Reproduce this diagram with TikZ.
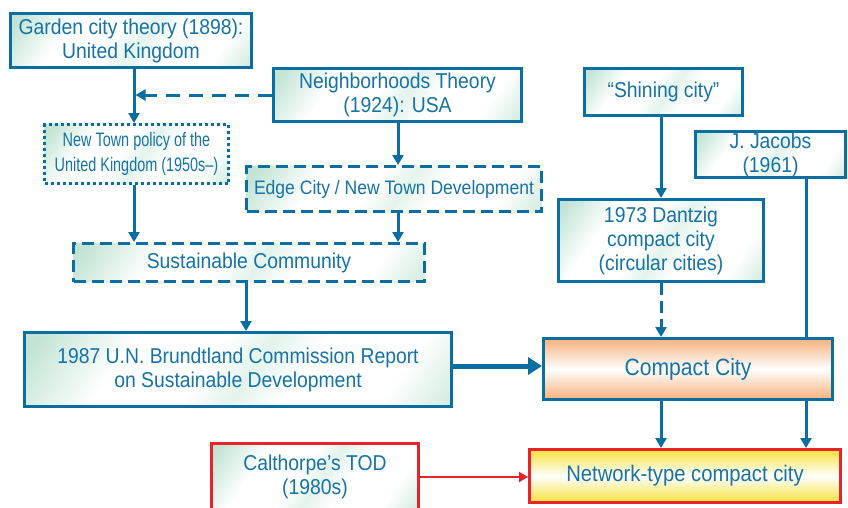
\documentclass[tikz,border=0pt]{standalone}
\usepackage{fontspec}
\setmainfont{Liberation Sans}[FakeStretch=0.9]
\newfontfamily\narrowfont{Liberation Sans}[FakeStretch=0.74]
\usetikzlibrary{arrows.meta}
\definecolor{bl}{HTML}{0A6EA0}
\definecolor{tx}{HTML}{1573A6}
\definecolor{mint}{HTML}{C3E4D5}
\definecolor{org}{HTML}{F6B17C}
\definecolor{yel}{HTML}{F6E23A}
\definecolor{rd}{HTML}{E8232B}
\pgfdeclarehorizontalshading{mintsh}{100bp}{color(0bp)=(mint); color(18bp)=(mint);
  color(32bp)=(white); color(45bp)=(white); color(52bp)=(mint!45!white);
  color(60bp)=(white); color(74bp)=(white); color(86bp)=(mint!85!white); color(100bp)=(mint)}
\begin{document}
\begin{tikzpicture}[x=1pt,y=-1pt,
  box/.style={draw=bl, line width=3pt, text=tx, align=center, inner sep=0pt,
    shading=mintsh, shading angle=-35,
    font=\fontsize{21.5}{24}\selectfont},
  dashbox/.style={box, dash pattern=on 12pt off 6pt},
  dotbox/.style={box, dash pattern=on 3pt off 3pt, font=\narrowfont\fontsize{19.5}{25}\selectfont},
  redbox/.style={box, draw=rd},
  arr/.style={draw=bl, line width=3pt, -{Triangle[length=10pt,width=11pt]}},
  dasharr/.style={arr, dash pattern=on 14pt off 9pt},
  dasharrb/.style={arr, dash pattern=on 12pt off 6pt},
  bigarr/.style={draw=bl, line width=5pt, -{Triangle[length=14pt,width=17pt]}},
  redarr/.style={draw=rd, line width=2.5pt, -{Triangle[length=9pt,width=10pt]}},
  plain/.style={draw=bl, line width=3pt}
]
\useasboundingbox (0,0) rectangle (848,507);
\clip (0,0) rectangle (848,507);

\node[box, minimum width=241pt, minimum height=54pt] (garden) at (131,40.5)
  {Garden city theory (1898):\\United Kingdom};
\node[box, minimum width=248pt, minimum height=53pt] (neigh) at (397.5,95)
  {Neighborhoods Theory\\(1924): USA};
\node[dotbox, minimum width=184pt, minimum height=59pt] (newtown) at (136.5,154)
  {New Town policy of the\\United Kingdom (1950s–)};
\node[dashbox, minimum width=295pt, minimum height=45pt, font=\fontsize{19.5}{24}\selectfont] (edge) at (394,189)
  {Edge City / New Town Development};
\node[box, minimum width=158pt, minimum height=47pt] (shining) at (663.5,92)
  {“Shining city”};
\node[box, minimum width=150pt, minimum height=46pt] (jacobs) at (770.5,154.5)
  {J. Jacobs\\(1961)};
\node[box, minimum width=205pt, minimum height=82pt] (dantzig) at (661,240.5)
  {1973 Dantzig\\compact city\\(circular cities)};
\node[dashbox, minimum width=351pt, minimum height=38pt] (sust) at (249,262.5)
  {Sustainable Community};
\node[box, minimum width=427pt, minimum height=74pt] (brundt) at (238,369.5)
  {1987 U.N. Brundtland Commission Report\\on Sustainable Development};
\node[box, top color=org, bottom color=org, middle color=white,
  minimum width=289pt, minimum height=61pt, font=\fontsize{23.5}{26}\selectfont] (compact) at (688,369)
  {Compact City};
\node[box, draw=rd, top color=yel, bottom color=yel, middle color=white,
  minimum width=311pt, minimum height=53pt, font=\fontsize{22.5}{26}\selectfont] (network) at (685,476)
  {Network-type compact city};
\node[redbox, minimum width=207pt, minimum height=67pt] (calt) at (315,477)
  {Calthorpe’s TOD\\(1980s)};

\coordinate (xa) at (134,0);
\coordinate (xb) at (398,0);
\coordinate (xc) at (246,0);
\coordinate (xe) at (661,0);
\coordinate (xf) at (806,0);
\coordinate (yd) at (0,366);

\draw[arr] (garden.south -| xa) -- (newtown.north -| xa);
\draw[dasharr, shorten >=1.5pt] (neigh.west) -- (neigh.west -| xa);
\draw[arr] (neigh.south -| xb) -- (edge.north -| xb);
\draw[arr] (newtown.south -| xa) -- (sust.north -| xa);
\draw[arr] (edge.south -| xb) -- (sust.north -| xb);
\draw[arr] (sust.south -| xc) -- (brundt.north -| xc);
\draw[bigarr] (brundt.east |- yd) -- (compact.west |- yd);
\draw[arr] (shining.south -| xe) -- (dantzig.north -| xe);
\draw[dasharrb] (dantzig.south -| xe) -- (compact.north -| xe);
\draw[plain] (jacobs.south -| xf) -- (compact.north -| xf);
\draw[arr] (compact.south -| xe) -- (network.north -| xe);
\draw[arr] (compact.south -| xf) -- (network.north -| xf);
\draw[redarr] (calt.east) -- (calt.east -| network.west);
\end{tikzpicture}
\end{document}
